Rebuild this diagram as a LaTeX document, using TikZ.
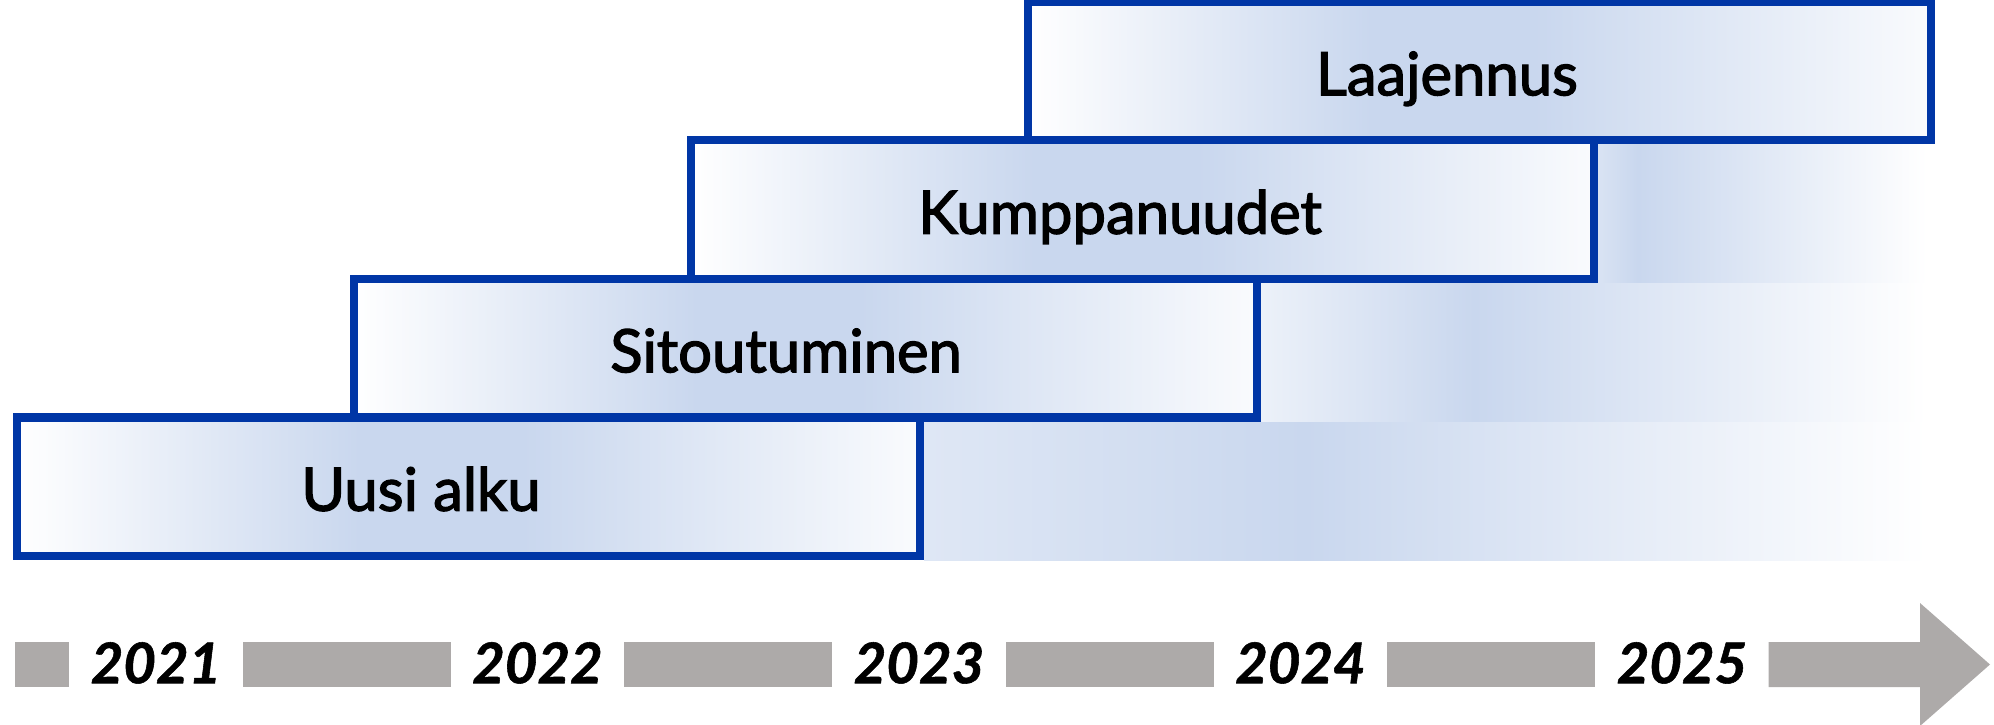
\documentclass[tikz,border=0pt]{standalone}
\usepackage{fontspec}
\setmainfont{Lato}
\newfontfamily\labelfont{Lato}[FakeBold=2.2]
\newfontfamily\yearfont{Lato}[BoldItalicFeatures={FakeBold=1}]
\usetikzlibrary{positioning,backgrounds}
\definecolor{myblue}{HTML}{0036A6}
\definecolor{mylight}{HTML}{C9D7EE}
\definecolor{mygray}{HTML}{ADAAA9}
\colorlet{bandleftone}{mylight!60!white}
\colorlet{bandlefttwo}{mylight!35!white}
\colorlet{bandleftthree}{mylight!70!white}
\colorlet{boxright}{mylight!10!white}
\pgfdeclarehorizontalshading{boxshade}{100bp}{color(0bp)=(white); color(25bp)=(white); color(44bp)=(mylight); color(53bp)=(mylight); color(75bp)=(boxright); color(100bp)=(boxright)}
\pgfdeclarehorizontalshading{bandone}{100bp}{color(0bp)=(bandleftone); color(25bp)=(bandleftone); color(44bp)=(mylight); color(75bp)=(white); color(100bp)=(white)}
\pgfdeclarehorizontalshading{bandtwo}{100bp}{color(0bp)=(bandlefttwo); color(25bp)=(bandlefttwo); color(41bp)=(mylight); color(75bp)=(white); color(100bp)=(white)}
\pgfdeclarehorizontalshading{bandthree}{100bp}{color(0bp)=(bandleftthree); color(25bp)=(bandleftthree); color(31bp)=(mylight); color(75bp)=(white); color(100bp)=(white)}
\tikzset{
  phase/.style={draw=myblue, line width=2.3pt, shading=boxshade,
    minimum width=9.03cm, minimum height=1.385cm, inner sep=0pt, anchor=south west},
  phaselabel/.style={anchor=base, font=\labelfont\fontsize{17}{20}\selectfont},
  year/.style={font=\yearfont\fontsize{16}{18}\selectfont\bfseries\itshape, minimum width=1.72cm, inner sep=0pt, text depth=0pt},
  axisbar/.style={fill=mygray}
}
\begin{document}
\begin{tikzpicture}
\useasboundingbox (0,0) rectangle (19.94,7.24);
% phases
\node [phase] (uusi) at (0.13,1.64) {};
\node [phase] (sitou) at (3.50,3.025) {};
\node [phase] (kump) at (6.87,4.41) {};
\node [phase] (laaj) at (10.24,5.795) {};
\node [phaselabel] (uusitext) at ([xshift=4.08cm,yshift=-0.24cm]uusi.west) {Uusi alku};
\node [phaselabel] (sitoutext) at ([xshift=4.36cm,yshift=-0.24cm]sitou.west) {Sitoutuminen};
\node [phaselabel] (kumptext) at ([xshift=4.33cm,yshift=-0.24cm]kump.west) {Kumppanuudet};
\node [phaselabel] (laajtext) at ([xshift=4.23cm,yshift=-0.24cm]laaj.west) {Laajennus};
% fading bands behind
\coordinate (bandend) at (19.27,0);
\begin{scope}[on background layer]
  \shade [shading=bandone] (uusi.south east) rectangle (uusi.north east -| bandend);
  \shade [shading=bandtwo] (sitou.south east) rectangle (sitou.north east -| bandend);
  \shade [shading=bandthree] (kump.south east) rectangle (kump.north east -| bandend);
\end{scope}
% time axis
\coordinate (bartop) at (0,0.82);
\coordinate (barbot) at (0,0.37);
\coordinate (tip) at (19.90,0.595);
\node [year] (y2021) at (1.56,0.613) {2021};
\node [year] (y2022) at (5.375,0.613) {2022};
\node [year] (y2023) at (9.19,0.613) {2023};
\node [year] (y2024) at (13.005,0.613) {2024};
\node [year] (y2025) at (16.82,0.613) {2025};
\fill [axisbar] (0.15,0.37) rectangle (y2021.west |- bartop);
\fill [axisbar] (y2021.east |- barbot) rectangle (y2022.west |- bartop);
\fill [axisbar] (y2022.east |- barbot) rectangle (y2023.west |- bartop);
\fill [axisbar] (y2023.east |- barbot) rectangle (y2024.west |- bartop);
\fill [axisbar] (y2024.east |- barbot) rectangle (y2025.west |- bartop);
\fill [axisbar] (y2025.east |- barbot) -- (y2025.east |- bartop) -- (19.20,0.82) -- (19.20,1.21)
  -- (tip) -- (19.20,-0.02) -- (19.20,0.37) -- cycle;
\end{tikzpicture}
\end{document}
